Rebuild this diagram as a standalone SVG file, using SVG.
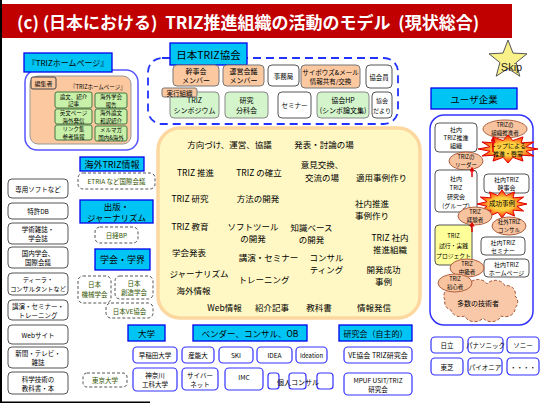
<svg xmlns="http://www.w3.org/2000/svg" width="548" height="409" viewBox="0 0 548 409">
<style>
.j{font-family:"Noto Sans CJK JP","Noto Sans",sans-serif;dominant-baseline:central;text-anchor:middle;fill:#000}
.f55{font-size:5.5px}.f6{font-size:6px}.f65{font-size:6.5px}.f7{font-size:7px}.f85{font-size:8.5px}.f9{font-size:9px}
.g{fill:#335500}
.lbl{fill:#00c4f4;stroke:#0000ee;stroke-width:1.3}
.wb{fill:#fff;stroke:#555;stroke-width:1}
.bb{fill:#fff;stroke:#3333ff;stroke-width:1.2}
.db{fill:#fff;stroke:#555;stroke-width:1;stroke-dasharray:3,2}
.pe{fill:#fcc8a0;stroke:#777;stroke-width:1}
.gr{fill:#d4f4cc;stroke:#888;stroke-width:1}
.hg{fill:#c8f0a8;stroke:#447744;stroke-width:1}
.el{fill:#f8c4a0;stroke:#b06040;stroke-width:1}
.ar{stroke:#e00000;stroke-width:1.5;fill:none;marker-end:url(#ah)}
</style>
<defs>
<marker id="ah" markerWidth="5" markerHeight="5" refX="2.5" refY="2.5" orient="auto" markerUnits="userSpaceOnUse"><path d="M0,0 L5,2.5 L0,5 Z" fill="#e00000"/></marker>
<radialGradient id="bg" cx="0.5" cy="0.5" r="0.5"><stop offset="0.45" stop-color="#ffd040"/><stop offset="1" stop-color="#ff2000"/></radialGradient>
<polygon id="burst" vector-effect="non-scaling-stroke" points="1,0 0.599,0.161 0.866,0.5 0.438,0.438 0.5,0.866 0.161,0.599 0,1 -0.161,0.599 -0.5,0.866 -0.438,0.438 -0.866,0.5 -0.599,0.161 -1,0 -0.599,-0.161 -0.866,-0.5 -0.438,-0.438 -0.5,-0.866 -0.161,-0.599 0,-1 0.161,-0.599 0.5,-0.866 0.438,-0.438 0.866,-0.5 0.599,-0.161" fill="url(#bg)" stroke="#e00000" stroke-width="1"/>
</defs>
<rect width="548" height="409" fill="#fff"/>
<rect x="0" y="0" width="2" height="403" fill="#000"/>
<rect x="0" y="401.5" width="150" height="1.5" fill="#000"/>

<g id="title">
<rect x="2" y="4" width="510" height="34" fill="#c00000"/>
<text x="17" y="21" xml:space="preserve" style="white-space:pre" font-family="'Noto Sans CJK JP','Noto Sans',sans-serif" font-size="17" font-weight="bold" fill="#fff" dominant-baseline="central">(c) (日本における)  TRIZ推進組織の活動のモデル  (現状総合)</text>
</g>

<g id="skip">
<polygon points="508,40 513,53.1 527,53.8 516.1,62.6 519.8,76.2 508,68.5 496.2,76.2 499.9,62.6 489,53.8 503,53.1" fill="#f8f088" stroke="#555" stroke-width="1"/>
<text x="511.5" y="67" font-family="'Liberation Sans',sans-serif" font-size="11" text-anchor="middle" dominant-baseline="central" fill="#222">Skip</text>
</g>

<g id="triz-homepage">
<rect x="25" y="70" width="113" height="80" rx="12" fill="#fff" stroke="#5555ff" stroke-width="1.5"/>
<rect class="lbl" x="24" y="53" width="88" height="19"/>
<text class="j" x="68" y="62.5" font-size="8">『TRIZホームページ』</text>
<rect x="30" y="76" width="101" height="68" rx="8" fill="#fcc8a0" stroke="#999"/>
<rect x="31" y="77" width="25" height="12" rx="2" fill="#fcc8a0" stroke="#444"/>
<text class="j f6" x="43.5" y="83">編集者</text>
<text class="j" x="98" y="87" font-size="5.5">『TRIZホームページ』</text>
<rect class="hg" x="55" y="92" width="37" height="16" rx="2"/>
<text class="j" font-size="5.5" x="73.5" y="96.5">論文、紹介</text><text class="j" font-size="5.5" x="73.5" y="104">記事</text>
<rect class="hg" x="95" y="93" width="32" height="15" rx="2"/>
<text class="j" font-size="5.5" x="111" y="97">海外学会</text><text class="j" font-size="5.5" x="111" y="104.5">報告</text>
<rect class="hg" x="55" y="109" width="37" height="15" rx="2"/>
<text class="j" font-size="5.5" x="73.5" y="113">英文ページ</text><text class="j" font-size="5.5" x="73.5" y="120.5">海外発信</text>
<rect class="hg" x="95" y="109" width="32" height="15" rx="2"/>
<text class="j" font-size="5.5" x="111" y="113">海外論文</text><text class="j" font-size="5.5" x="111" y="120.5">和訳紹介</text>
<rect class="hg" x="55" y="125" width="37" height="15" rx="2"/>
<text class="j" font-size="5.5" x="73.5" y="129">リンク集</text><text class="j" font-size="5.5" x="73.5" y="136.5">参考情報</text>
<rect class="hg" x="95" y="126" width="32" height="15" rx="2"/>
<text class="j" font-size="5.5" x="111" y="130">メルマガ</text><text class="j" font-size="5.5" x="111" y="137.5">国内&amp;海外</text>
</g>

<g id="japan-triz-society">
<rect x="148" y="58" width="250" height="66" rx="14" fill="#fff" stroke="#2233ff" stroke-width="1.8" stroke-dasharray="8,5"/>
<rect class="lbl" x="170" y="43" width="77" height="22"/>
<text class="j" x="208.5" y="54" font-size="10.5">日本TRIZ協会</text>
<rect class="pe" x="173" y="65" width="46" height="21" rx="4"/>
<text class="j f7" x="196" y="71">幹事会</text><text class="j f7" x="196" y="80">メンバー</text>
<rect class="pe" x="223" y="65" width="41" height="21" rx="4"/>
<text class="j f7" x="243.5" y="71">運営会議</text><text class="j f7" x="243.5" y="80">メンバー</text>
<rect class="wb" x="268" y="65" width="31" height="21" rx="4"/>
<text class="j f65" x="283.5" y="75.5">事務局</text>
<rect class="pe" x="301" y="65" width="59" height="23" rx="4"/>
<text class="j f65" x="330.5" y="72">サイボウズ&amp;メール</text><text class="j f65" x="330.5" y="81">情報共有/交換</text>
<rect class="wb" x="366" y="65" width="26" height="23" rx="4"/>
<text class="j f65" x="379" y="76.5">協会員</text>
<rect class="gr" x="170" y="92" width="49" height="26" rx="4"/>
<text class="j f7" x="194.5" y="100">TRIZ</text><text class="j f7" x="194.5" y="110">シンポジウム</text>
<rect class="pe" x="162" y="88" width="35" height="9" rx="2" stroke="#444"/>
<text class="j f65" x="179.5" y="92.5">実行組織</text>
<rect class="gr" x="225" y="92" width="43" height="26" rx="4"/>
<text class="j f7" x="246.5" y="100">研究</text><text class="j f7" x="246.5" y="110">分科会</text>
<rect class="wb" x="278" y="92" width="33" height="26" rx="4"/>
<text class="j f65" x="294.5" y="105">セミナー</text>
<rect class="gr" x="317" y="92" width="52" height="26" rx="4"/>
<text class="j f7" x="343" y="100">協会HP</text><text class="j f7" x="343" y="110">(シンポ論文集)</text>
<rect class="wb" x="372" y="92" width="20" height="26" rx="4"/>
<text class="j f6" x="382" y="100">協会</text><text class="j f6" x="382" y="110">だより</text>
</g>

<g id="left-column">
<rect class="wb" x="8" y="179" width="60" height="19" rx="4"/><text class="j f65" x="38" y="188.5">専用ソフトなど</text>
<rect class="wb" x="8" y="203" width="60" height="16" rx="4"/><text class="j f65" x="38" y="211">特許DB</text>
<rect class="wb" x="8" y="223" width="60" height="21" rx="4"/><text class="j f65" x="38" y="229">学術雑誌・</text><text class="j f65" x="38" y="238">学会誌</text>
<rect class="wb" x="8" y="247" width="60" height="21" rx="4"/><text class="j f65" x="38" y="253">国内学会、</text><text class="j f65" x="38" y="262">国際会議</text>
<rect class="wb" x="8" y="273" width="60" height="22" rx="4"/><text class="j" font-size="6.2" x="38" y="279.5">ディーラ・</text><text class="j" font-size="6.2" x="38" y="288.5">コンサルタントなど</text>
<rect class="wb" x="8" y="300" width="60" height="20" rx="4"/><text class="j f65" x="38" y="305.5">講演・セミナー・</text><text class="j f65" x="38" y="314.5">トレーニング</text>
<rect class="wb" x="8" y="325" width="60" height="19" rx="4"/><text class="j f65" x="38" y="334.5">Webサイト</text>
<rect class="wb" x="8" y="347" width="60" height="21" rx="4"/><text class="j f65" x="38" y="353">新聞・テレビ・</text><text class="j f65" x="38" y="362">雑誌</text>
<rect class="wb" x="8" y="372" width="60" height="22" rx="4"/><text class="j f65" x="38" y="378.5">科学技術の</text><text class="j f65" x="38" y="387.5">教科書・本</text>
</g>

<g id="info-sources">
<rect class="lbl" x="80" y="157" width="64" height="14"/><text class="j f9" x="112" y="164">海外TRIZ情報</text>
<rect class="db" x="78" y="173" width="77" height="16" rx="5"/><text class="j f65 g" x="116.5" y="181">ETRIA など国際会議</text>
<rect class="lbl" x="80" y="200" width="73" height="23"/><text class="j f85" x="116.5" y="205.5">出版・</text><text class="j f85" x="116.5" y="217">ジャーナリズム</text>
<rect class="db" x="95" y="227" width="43" height="16" rx="5"/><text class="j f65 g" x="116.5" y="235">日経BP</text>
<rect class="lbl" x="95" y="249" width="55" height="21"/><text class="j f9" x="122.5" y="259.5">学会・学界</text>
<rect class="db" x="78" y="276" width="33" height="27" rx="5"/><text class="j f65 g" x="94.5" y="284">日本</text><text class="j f65 g" x="94.5" y="294">機械学会</text>
<rect class="db" x="115" y="276" width="38" height="23" rx="5"/><text class="j f65 g" x="134" y="283">日本</text><text class="j f65 g" x="134" y="292">創造学会</text>
<rect class="db" x="106" y="303" width="47" height="15" rx="5"/><text class="j f65 g" x="129.5" y="310.5">日本VE協会</text>
</g>

<g id="activities">
<rect x="158" y="128" width="262" height="190" rx="22" fill="#fff8c4" stroke="#fcd8a0" stroke-width="3.5"/>
<text class="j f85" x="229.5" y="144">方向づけ、運営、協議</text>
<text class="j f85" x="324" y="144">発表・討論の場</text>
<text class="j f85" x="195.5" y="172">TRIZ 推進</text>
<text class="j f85" x="259" y="172">TRIZ の確立</text>
<text class="j f85" x="322" y="164">意見交換、</text><text class="j f85" x="322" y="177">交流の場</text>
<text class="j f85" x="381.5" y="177">適用事例作り</text>
<text class="j f85" x="190" y="198">TRIZ 研究</text>
<text class="j f85" x="258" y="198">方法の開発</text>
<text class="j f85" x="372" y="203">社内推進</text><text class="j f85" x="372" y="215">事例作り</text>
<text class="j f85" x="190" y="226">TRIZ 教育</text>
<text class="j f85" x="253" y="226">ソフトツール</text><text class="j f85" x="253" y="238">の開発</text>
<text class="j f85" x="311.5" y="227">知識ベース</text><text class="j f85" x="311.5" y="239">の開発</text>
<text class="j f85" x="390" y="237">TRIZ 社内</text><text class="j f85" x="390" y="249">推進組織</text>
<text class="j f85" x="189" y="252">学会発表</text>
<text class="j f85" x="268.5" y="257">講演・セミナー</text>
<text class="j f85" x="326.5" y="257">コンサル</text><text class="j f85" x="326.5" y="269">ティング</text>
<text class="j f85" x="383.5" y="269">開発成功</text><text class="j f85" x="383.5" y="281">事例</text>
<text class="j f85" x="199" y="273">ジャーナリズム</text>
<text class="j f85" x="264" y="279">トレーニング</text>
<text class="j f85" x="193.5" y="290">海外情報</text>
<text class="j f85" x="224.5" y="307">Web情報</text>
<text class="j f85" x="272" y="307">紹介記事</text>
<text class="j f85" x="319" y="307">教科書</text>
<text class="j f85" x="374" y="307">情報発信</text>
</g>

<g id="universities">
<rect class="lbl" x="128" y="325" width="37" height="16"/><text class="j f85" x="146.5" y="333">大学</text>
<rect class="bb" x="133" y="347" width="44" height="16" rx="4"/><text class="j f65" x="155" y="355">早稲田大学</text>
<rect class="bb" x="133" y="368" width="44" height="23" rx="4"/><text class="j f65" x="155" y="375">神奈川</text><text class="j f65" x="155" y="384">工科大学</text>
<rect class="db" x="83" y="373" width="44" height="14" rx="4"/><text class="j f65 g" x="105" y="380">東京大学</text>
</g>

<g id="vendors">
<rect class="lbl" x="193" y="325" width="114" height="16"/><text class="j f85" x="250" y="333">ベンダー、コンサル、OB</text>
<rect class="bb" x="182" y="347" width="32" height="16" rx="4"/><text class="j f65" x="198" y="355">産能大</text>
<rect class="bb" x="219" y="347" width="34" height="16" rx="4"/><text class="j f65" x="236" y="355">SKI</text>
<rect class="bb" x="257" y="347" width="35" height="16" rx="4"/><text class="j f65" x="274.5" y="355">IDEA</text>
<rect class="bb" x="296" y="347" width="31" height="16" rx="4"/><text class="j f6" x="311.5" y="355">Ideation</text>
<rect class="bb" x="182" y="368" width="36" height="22" rx="4"/><text class="j f65" x="200" y="374.5">サイバー</text><text class="j f65" x="200" y="383.5">ネット</text>
<rect class="bb" x="225" y="368" width="38" height="22" rx="4"/><text class="j f65" x="244" y="377">IMC</text>
<rect class="bb" x="268" y="373" width="11" height="16" rx="3"/>
<rect class="bb" x="289" y="373" width="17" height="16" rx="3"/>
<rect class="bb" x="317" y="373" width="16" height="16" rx="3"/>
<text class="j f7" x="298" y="382">個人コンサル</text>
</g>

<g id="study-groups">
<rect class="lbl" x="339" y="325" width="73" height="16"/><text class="j" font-size="8" x="375.5" y="333">研究会（自主的）</text>
<rect class="bb" x="344" y="347" width="68" height="16" rx="4"/><text class="j f7" x="378" y="355">VE協会 TRIZ研究会</text>
<rect class="bb" x="344" y="373" width="68" height="22" rx="4"/><text class="j f65" x="378" y="379.5">MPUF USIT/TRIZ</text><text class="j f65" x="378" y="388.5">研究会</text>
</g>

<g id="companies">
<rect class="bb" x="431" y="337" width="32" height="16" rx="4"/><text class="j f65" x="447" y="345">日立</text>
<rect class="bb" x="468" y="337" width="35" height="16" rx="4"/><text class="j f65" x="485.5" y="345">パナソニック</text>
<rect class="bb" x="507" y="337" width="32" height="16" rx="4"/><text class="j f65" x="523" y="345">ソニー</text>
<rect class="bb" x="431" y="358" width="32" height="17" rx="4"/><text class="j f65" x="447" y="366.5">東芝</text>
<rect class="bb" x="468" y="358" width="34" height="17" rx="4"/><text class="j f65" x="485" y="366.5">パイオニア</text>
<rect class="bb" x="507" y="358" width="32" height="17" rx="4"/><text class="j f65" x="523" y="366.5">・・・・</text>
</g>

<g id="user-enterprise">
<rect class="lbl" x="431" y="88" width="86" height="21"/><text class="j" font-size="9.5" x="474" y="98.5">ユーザ企業</text>
<rect x="430" y="115" width="103" height="210" rx="14" fill="#fff" stroke="#3333ff" stroke-width="1.5"/>
<path d="M445,300 a8,8 0 0 1 8,-12 a10,8 0 0 1 16,-4 a10,8 0 0 1 18,0 a10,8 0 0 1 18,2 a8,8 0 0 1 10,10 a8,8 0 0 1 0,12 a10,8 0 0 1 -14,8 a10,8 0 0 1 -18,2 a10,8 0 0 1 -18,-2 a10,8 0 0 1 -14,-6 a8,8 0 0 1 -6,-10 Z" fill="#f8c8a8" stroke="#a05030" stroke-width="1" stroke-dasharray="3,2"/>
<text class="j f7" x="478" y="303">多数の技術者</text>
<rect class="wb" x="435" y="123" width="42" height="29" rx="4"/>
<text class="j f6" x="456" y="129.5">社内</text><text class="j f6" x="456" y="137.5">TRIZ推進</text><text class="j f6" x="456" y="145.5">組織</text>
<ellipse class="el" cx="505" cy="129" rx="22" ry="9"/>
<text class="j f55" x="505" y="125">TRIZの</text><text class="j f55" x="505" y="133">組織推進者</text>
<use href="#burst" transform="translate(508,149) scale(30,14)"/>
<text class="j f6" x="508" y="145">トップによる</text><text class="j f6" x="508" y="153">推進・啓蒙</text>
<line class="ar" x1="493" y1="152" x2="493" y2="139"/>
<ellipse class="el" cx="466" cy="161" rx="17" ry="9"/>
<text class="j f55" x="466" y="157">TRIZの</text><text class="j f55" x="466" y="165">リーダー</text>
<rect class="wb" x="435" y="170" width="42" height="42" rx="4"/>
<text class="j f6" x="456" y="178">社内</text><text class="j f6" x="456" y="187">TRIZ</text><text class="j f6" x="456" y="196">研究会</text><text class="j f6" x="456" y="205">(グループ)</text>
<line class="ar" x1="472" y1="177" x2="472" y2="169"/>
<rect class="wb" x="484" y="174" width="45" height="19" rx="4"/>
<text class="j f6" x="506.5" y="179.5">社内TRIZ</text><text class="j f6" x="506.5" y="187.5">幹事会</text>
<use href="#burst" transform="translate(502,204) scale(25,14)"/>
<text class="j f65" x="502" y="203">成功事例</text>
<ellipse class="el" cx="475" cy="216" rx="17" ry="9"/>
<text class="j f55" x="475" y="212">TRIZ</text><text class="j f55" x="475" y="220">経験者</text>
<ellipse class="el" cx="509" cy="226" rx="17" ry="9"/>
<text class="j f55" x="509" y="222">社外TRIZ</text><text class="j f55" x="509" y="230">コンサル</text>
<rect x="435" y="225" width="37" height="40" rx="4" fill="#ffff99" stroke="#555"/>
<text class="j" font-size="5.8" x="453.5" y="235">TRIZ</text><text class="j" font-size="5.8" x="453.5" y="245">試行・実践</text><text class="j" font-size="5.8" x="453.5" y="255">プロジェクト</text>
<line class="ar" x1="472" y1="232" x2="472" y2="224"/>
<rect class="wb" x="481" y="237" width="44" height="18" rx="4"/>
<text class="j f6" x="503" y="242">社内TRIZ</text><text class="j f6" x="503" y="250">セミナー</text>
<rect class="wb" x="484" y="259" width="45" height="18" rx="4"/>
<text class="j f6" x="506.5" y="264">社内TRIZ</text><text class="j f6" x="506.5" y="272">ホームページ</text>
<ellipse class="el" cx="467" cy="268" rx="17" ry="9"/>
<text class="j f55" x="467" y="264">TRIZ</text><text class="j f55" x="467" y="272">中級者</text>
<ellipse class="el" cx="455" cy="283" rx="17" ry="9"/>
<text class="j f55" x="455" y="279">TRIZ</text><text class="j f55" x="455" y="287">初心者</text>
</g>

<g id="connectors"></g>
</svg>
